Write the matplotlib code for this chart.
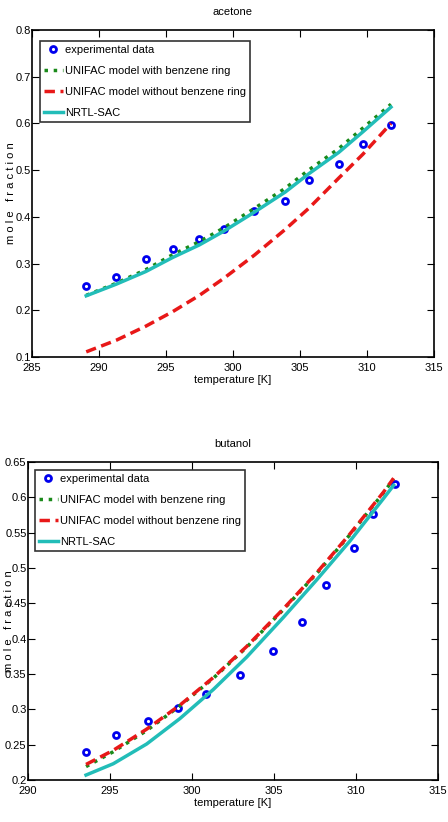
import matplotlib
matplotlib.use('Agg')
import matplotlib.pyplot as plt

plt.rcParams['font.family'] = ['Liberation Sans', 'DejaVu Sans']

# acetone
ac_T_exp = [289.05, 291.3, 293.5, 295.5, 297.5, 299.3, 301.6, 303.9, 305.65, 307.9, 309.7, 311.8]
ac_x_exp = [0.253, 0.272, 0.309, 0.331, 0.352, 0.373, 0.413, 0.435, 0.479, 0.513, 0.556, 0.597]
ac_T_mod = [289.05, 291.3, 293.5, 295.5, 297.5, 299.3, 301.6, 303.9, 305.65, 307.9, 309.7, 311.8]
ac_unifac_ring = [0.232, 0.258, 0.287, 0.319, 0.347, 0.376, 0.418, 0.461, 0.500, 0.546, 0.590, 0.641]
ac_unifac_noring = [0.111, 0.136, 0.166, 0.197, 0.232, 0.268, 0.318, 0.373, 0.418, 0.483, 0.534, 0.600]
ac_nrtl = [0.231, 0.256, 0.283, 0.313, 0.340, 0.369, 0.410, 0.453, 0.492, 0.538, 0.582, 0.635]

# butanol
bu_T_exp = [293.54, 295.35, 297.3, 299.16, 300.83, 302.93, 304.94, 306.69, 308.15, 309.86, 311.02, 312.36]
bu_x_exp = [0.239, 0.263, 0.283, 0.302, 0.321, 0.349, 0.383, 0.423, 0.476, 0.528, 0.577, 0.619]
bu_T_mod = [293.54, 295.2, 297.24, 299.27, 301.3, 303.34, 305.57, 307.6, 309.63, 311.67, 312.3]
bu_unifac_ring = [0.219, 0.240, 0.270, 0.305, 0.344, 0.388, 0.441, 0.492, 0.547, 0.606, 0.626]
bu_unifac_noring = [0.222, 0.242, 0.272, 0.306, 0.345, 0.389, 0.442, 0.493, 0.548, 0.607, 0.627]
bu_nrtl = [0.207, 0.223, 0.251, 0.287, 0.328, 0.374, 0.430, 0.483, 0.538, 0.598, 0.617]

labels = ['experimental data', 'UNIFAC model with benzene ring',
          'UNIFAC model without benzene ring', 'NRTL-SAC']

fs = 8


def draw(ax, title, T_exp, x_exp, T_mod, ring, noring, nrtl, xlim, ylim, yticks,
         ylab_x, leg_anchor):
    ax.plot(T_exp, x_exp, 'o', color='#0000ee', mfc='none', mew=2.0, ms=4.3, label=labels[0])
    ax.plot(T_mod, ring, ':', color='#1a8a1a', lw=2.5, label=labels[1])
    ax.plot(T_mod, noring, '--', color='#e81818', lw=2.5, dashes=(3, 1.6), label=labels[2])
    ax.plot(T_mod, nrtl, '-', color='#22bdb8', lw=2.5, label=labels[3])
    ax.set_xlim(*xlim)
    ax.set_ylim(*ylim)
    ax.set_yticks(yticks)
    ax.set_yticklabels(['%g' % v for v in yticks])
    ax.tick_params(direction='in', top=True, right=True, labelsize=fs, length=5)
    ax.tick_params(axis='y', pad=1)
    ax.tick_params(axis='x', pad=4)
    for s in ax.spines.values():
        s.set_linewidth(1.2)
    ax.set_title(title, fontsize=fs, pad=11)
    ax.set_xlabel('temperature [K]', fontsize=fs, labelpad=2)
    ax.set_ylabel('m o l e   f r a c t i o n', fontsize=fs)
    ax.yaxis.set_label_coords(ylab_x, 0.5)
    leg = ax.legend(loc='upper left', bbox_to_anchor=leg_anchor, borderaxespad=0,
                    fontsize=fs, frameon=True, fancybox=False,
                    handlelength=1.7, handletextpad=0.2,
                    labelspacing=1.0, borderpad=0.35, numpoints=1)
    leg.get_frame().set_edgecolor('black')
    leg.get_frame().set_linewidth(1.2)


fig = plt.figure(figsize=(4.48, 8.22), dpi=100)
ax1 = fig.add_axes([0.0714, 0.5657, 0.897, 0.3978])
ax2 = fig.add_axes([0.0625, 0.0511, 0.915, 0.3869])

draw(ax1, 'acetone', ac_T_exp, ac_x_exp, ac_T_mod, ac_unifac_ring, ac_unifac_noring, ac_nrtl,
     (285, 315), (0.1, 0.8), [0.1, 0.2, 0.3, 0.4, 0.5, 0.6, 0.7, 0.8], -0.04,
     (8 / 402, 1 - 11 / 327))
draw(ax2, 'butanol', bu_T_exp, bu_x_exp, bu_T_mod, bu_unifac_ring, bu_unifac_noring, bu_nrtl,
     (290, 315), (0.2, 0.65), [0.2, 0.25, 0.3, 0.35, 0.4, 0.45, 0.5, 0.55, 0.6, 0.65], -0.035,
     (7 / 410, 1 - 8 / 318))

fig.savefig('out.png', dpi=100)
